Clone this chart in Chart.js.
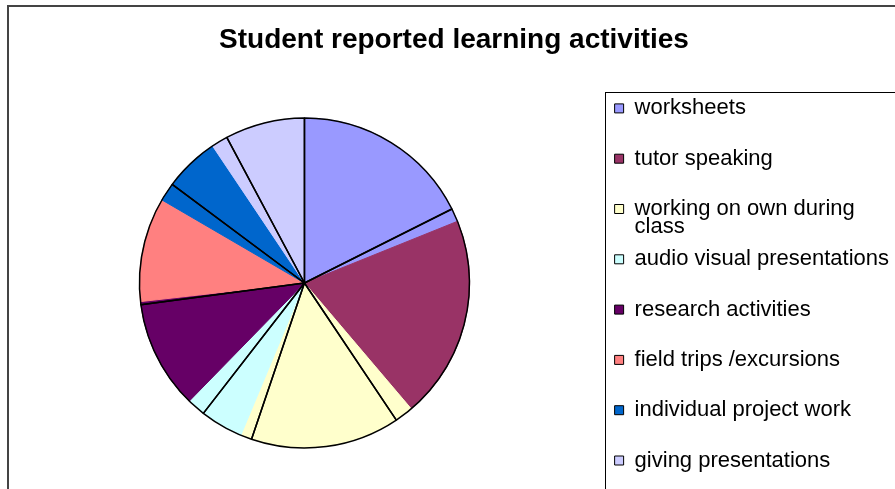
<!DOCTYPE html>
<html>
<head>
<meta charset="utf-8">
<script src="https://cdn.jsdelivr.net/npm/chart.js@4.4.1/dist/chart.umd.min.js"></script>
<style>
  html, body { margin: 0; padding: 0; background: #fff; overflow: hidden; }
  #frame { position: absolute; left: 7px; top: 5px; border: 2px solid #444; background: #fff; }
  #frame canvas { display: block; }
</style>
</head>
<body>
<div id="frame"><canvas id="activities" width="890" height="496"></canvas></div>
<script>
// categories (the long one wraps onto two legend lines)
var activities = ['worksheets', 'tutor speaking', ['working on own during', 'class'],
  'audio visual presentations', 'research activities', 'field trips /excursions',
  'individual project work', 'giving presentations'];

// share of responses, %, first series (filled slices)
var seriesFilled = [18.9, 19.9, 17.5, 6.0, 10.9, 10.2, 7.2, 9.4];
// share of responses, %, second series (outlined slices drawn over the first)
var seriesOutlined = [17.6, 23.0, 14.6, 5.3, 12.4, 12.3, 7.0, 7.8];

var sliceColours = ['#9999FF', '#993366', '#FFFFCC', '#CCFFFF', '#660066', '#FF8080', '#0066CC', '#CCCCFF'];

var FONT = "'Liberation Sans', Arial, sans-serif";
var LEGEND_PAD = 14.7;
var LEGEND_TITLE_H = 19.7;

// both series share the full radius, the way the spreadsheet drew them
var fullPie = {
    id: 'fullPie',
    afterDatasetsUpdate: function (chart) {
        var outer = 0;
        chart.data.datasets.forEach(function (d, i) {
            chart.getDatasetMeta(i).data.forEach(function (arc) { outer = Math.max(outer, arc.outerRadius); });
        });
        chart.data.datasets.forEach(function (d, i) {
            chart.getDatasetMeta(i).data.forEach(function (arc) {
                arc.outerRadius = outer;
                arc.innerRadius = 0;
            });
        });
    }
};

// thin frame round the legend
var legendFrame = {
    id: 'legendFrame',
    afterDraw: function (chart) {
        var lg = chart.legend;
        var ctx = chart.ctx;
        var x = Math.round(lg.left + LEGEND_PAD - 10) + 0.5;
        var y = Math.round(lg.top + LEGEND_TITLE_H + LEGEND_PAD - 5.7) + 0.5;
        ctx.save();
        ctx.strokeStyle = '#000';
        ctx.lineWidth = 1;
        ctx.strokeRect(x, y, chart.width, chart.height);
        ctx.restore();
    }
};

var ctx = document.getElementById('activities').getContext('2d');
var chart = new Chart(ctx, {
    type: 'pie',
    data: {
        labels: activities,
        datasets: [{
            label: 'filled',
            data: seriesFilled,
            backgroundColor: sliceColours,
            borderColor: sliceColours,
            borderWidth: 1,
            order: 1
        }, {
            label: 'outlined',
            data: seriesOutlined,
            backgroundColor: 'rgba(0,0,0,0)',
            borderColor: '#000',
            borderWidth: 1.5,
            order: 0
        }]
    },
    options: {
        responsive: false,
        animation: false,
        radius: 165,
        layout: { padding: 0 },
        plugins: {
            title: {
                display: true,
                text: 'Student reported learning activities',
                color: '#000',
                font: { family: FONT, size: 28, weight: 'bold' },
                padding: { top: 16.5, bottom: 5.9 }
            },
            legend: {
                position: 'right',
                align: 'start',
                fullSize: false,
                title: { display: true, text: '', font: { size: 12 }, padding: { top: 0, bottom: 5.3 } },
                labels: {
                    color: '#000',
                    font: { family: FONT, size: 22, lineHeight: '17.8px' },
                    boxWidth: 9,
                    boxHeight: 9,
                    padding: LEGEND_PAD,
                    generateLabels: function (chart) {
                        var ds = chart.data.datasets[0];
                        return chart.data.labels.map(function (label, i) {
                            return {
                                text: Array.isArray(label) ? label : [label, ''],
                                fillStyle: ds.backgroundColor[i],
                                strokeStyle: '#000',
                                lineWidth: 1,
                                fontColor: '#000',
                                hidden: false,
                                index: i
                            };
                        });
                    }
                }
            },
            tooltip: { enabled: false }
        }
    },
    plugins: [fullPie, legendFrame]
});
</script>
</body>
</html>
